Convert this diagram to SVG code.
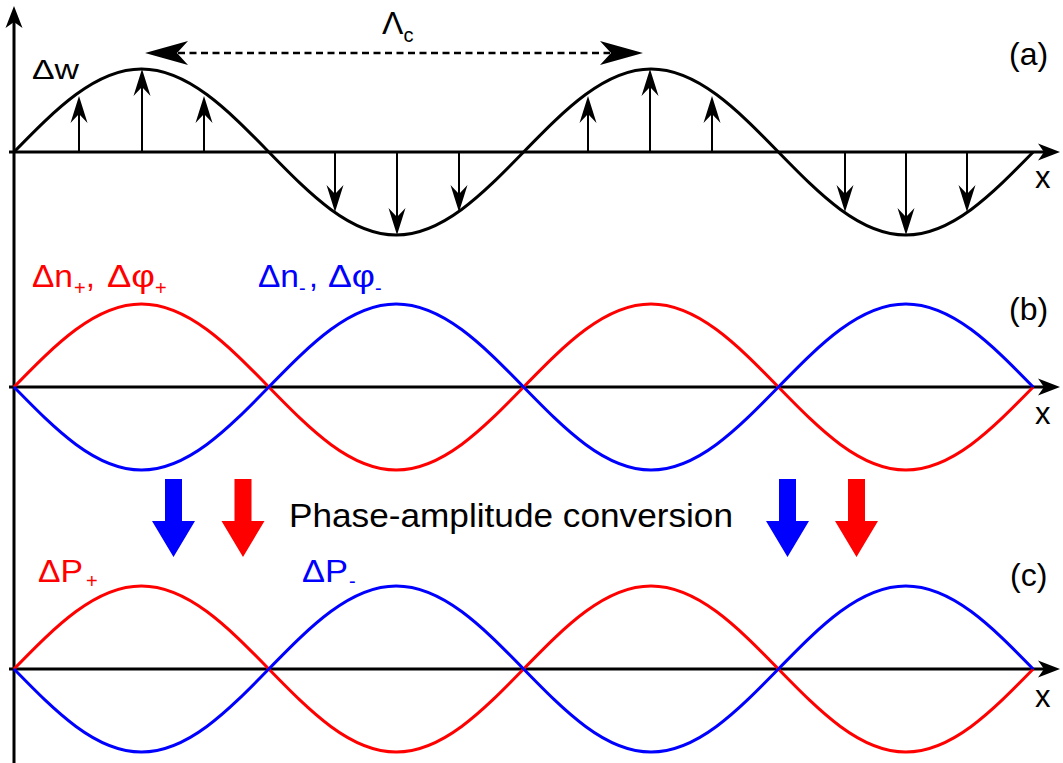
<svg xmlns="http://www.w3.org/2000/svg" width="1063" height="763" viewBox="0 0 1063 763">
<style>
.ax{stroke:#000;stroke-width:3;fill:none}
.wave{fill:none;stroke-width:3}
.bk{stroke:#000}
.rd{stroke:#ff0000}
.bl{stroke:#0000ff}
.sa{stroke:#000;stroke-width:2;fill:none}
.t{font-family:"Liberation Sans",Arial,sans-serif;fill:#000}
.red{fill:#ff0000}
.blue{fill:#0000ff}
</style>
<defs>
<path id="axh" d="M0,0 L-22,-8.5 L-16,0 L-22,8.5 Z" fill="#000"/>
<path id="sh" d="M0,0 L-8.5,27 L0,18 L8.5,27 Z" fill="#000"/>
<path id="dh" d="M0,0 L43,-12 L32,0 L43,12 Z" fill="#000"/>
<path id="blk" d="M-8.5,0 H8.5 V42 H21.5 L0,78 L-21.5,42 H-8.5 Z"/>
</defs>

<g id="axes">
<line class="ax" x1="14" y1="20" x2="14" y2="763"/>
<use href="#axh" transform="translate(14,6) rotate(-90)"/>
<line class="ax" x1="9" y1="152" x2="1046" y2="152"/>
<use href="#axh" transform="translate(1060,152)"/>
<line class="ax" x1="9" y1="387" x2="1046" y2="387"/>
<use href="#axh" transform="translate(1060,387)"/>
<line class="ax" x1="9" y1="669" x2="1046" y2="669"/>
<use href="#axh" transform="translate(1060,669)"/>
</g>

<g id="panel-a">
<path class="wave bk" d="M14,152 c41.5,-42.5 81.3,-83 127.4,-83 c46.1,0 85.9,40.5 127.4,83 c41.5,42.5 81.3,83 127.4,83 c46.1,0 85.9,-40.5 127.4,-83 c41.5,-42.5 81.3,-83 127.4,-83 c46.1,0 85.9,40.5 127.4,83 c41.5,42.5 81.3,83 127.4,83 c46.1,0 85.9,-40.5 127.4,-83"/>
<g id="small-arrows">
<line class="sa" x1="79" y1="152" x2="79" y2="110"/><use href="#sh" transform="translate(79,96)"/>
<line class="sa" x1="142" y1="152" x2="142" y2="85"/><use href="#sh" transform="translate(142,69)"/>
<line class="sa" x1="204" y1="152" x2="204" y2="110"/><use href="#sh" transform="translate(204,96)"/>
<line class="sa" x1="335" y1="152" x2="335" y2="198"/><use href="#sh" transform="translate(335,212) rotate(180)"/>
<line class="sa" x1="397" y1="152" x2="397" y2="220"/><use href="#sh" transform="translate(397,235) rotate(180)"/>
<line class="sa" x1="459" y1="152" x2="459" y2="198"/><use href="#sh" transform="translate(459,212) rotate(180)"/>
<line class="sa" x1="588" y1="152" x2="588" y2="110"/><use href="#sh" transform="translate(588,96)"/>
<line class="sa" x1="650" y1="152" x2="650" y2="85"/><use href="#sh" transform="translate(650,69)"/>
<line class="sa" x1="712" y1="152" x2="712" y2="110"/><use href="#sh" transform="translate(712,96)"/>
<line class="sa" x1="845" y1="152" x2="845" y2="198"/><use href="#sh" transform="translate(845,212) rotate(180)"/>
<line class="sa" x1="906" y1="152" x2="906" y2="220"/><use href="#sh" transform="translate(906,235) rotate(180)"/>
<line class="sa" x1="967" y1="152" x2="967" y2="198"/><use href="#sh" transform="translate(967,212) rotate(180)"/>
</g>
<g id="lambda-arrow">
<line x1="178" y1="53" x2="610" y2="53" stroke="#000" stroke-width="2.5" stroke-dasharray="7,4.5"/>
<use href="#dh" transform="translate(145,53)"/>
<use href="#dh" transform="translate(643,53) rotate(180)"/>
</g>
<text class="t" x="382" y="34" font-size="32">Λ<tspan font-size="20" dy="8">c</tspan></text>
<text class="t" x="32" y="79" font-size="28" textLength="47" lengthAdjust="spacingAndGlyphs">Δw</text>
<text class="t" x="1009" y="65" font-size="32">(a)</text>
<text class="t" x="1035" y="188" font-size="31">x</text>
</g>

<g id="panel-b">
<path class="wave rd" d="M14,387 c41.5,-42.5 81.3,-83 127.4,-83 c46.1,0 85.9,40.5 127.4,83 c41.5,42.5 81.3,83 127.4,83 c46.1,0 85.9,-40.5 127.4,-83 c41.5,-42.5 81.3,-83 127.4,-83 c46.1,0 85.9,40.5 127.4,83 c41.5,42.5 81.3,83 127.4,83 c46.1,0 85.9,-40.5 127.4,-83" stroke-width="2.5"/>
<path class="wave bl" d="M14,387 c41.5,42.5 81.3,83 127.4,83 c46.1,0 85.9,-40.5 127.4,-83 c41.5,-42.5 81.3,-83 127.4,-83 c46.1,0 85.9,40.5 127.4,83 c41.5,42.5 81.3,83 127.4,83 c46.1,0 85.9,-40.5 127.4,-83 c41.5,-42.5 81.3,-83 127.4,-83 c46.1,0 85.9,40.5 127.4,83" stroke-width="2.5"/>
<text class="t red" y="287" font-size="32"><tspan x="32" textLength="41" lengthAdjust="spacingAndGlyphs">Δn</tspan><tspan x="74" dy="8" font-size="20">+</tspan><tspan x="86" dy="-8">,</tspan><tspan x="107" textLength="48" lengthAdjust="spacingAndGlyphs">Δφ</tspan><tspan x="155" dy="8" font-size="20">+</tspan></text>
<text class="t blue" y="287" font-size="32"><tspan x="258" textLength="41" lengthAdjust="spacingAndGlyphs">Δn</tspan><tspan x="299" dy="8" font-size="20">-</tspan><tspan x="309" dy="-8">,</tspan><tspan x="328" textLength="47" lengthAdjust="spacingAndGlyphs">Δφ</tspan><tspan x="375" dy="8" font-size="20">-</tspan></text>
<text class="t" x="1009" y="320" font-size="32">(b)</text>
<text class="t" x="1035" y="424" font-size="31">x</text>
</g>

<g id="conversion">
<use href="#blk" fill="#0000ff" transform="translate(173.5,479)"/>
<use href="#blk" fill="#ff0000" transform="translate(243,479)"/>
<use href="#blk" fill="#0000ff" transform="translate(787.5,479)"/>
<use href="#blk" fill="#ff0000" transform="translate(856.5,479)"/>
<text class="t" x="289" y="527" font-size="33" textLength="444" lengthAdjust="spacingAndGlyphs">Phase-amplitude conversion</text>
</g>

<g id="panel-c">
<path class="wave rd" d="M14,669 c41.5,-42.5 81.3,-83 127.4,-83 c46.1,0 85.9,40.5 127.4,83 c41.5,42.5 81.3,83 127.4,83 c46.1,0 85.9,-40.5 127.4,-83 c41.5,-42.5 81.3,-83 127.4,-83 c46.1,0 85.9,40.5 127.4,83 c41.5,42.5 81.3,83 127.4,83 c46.1,0 85.9,-40.5 127.4,-83" stroke-width="2.5"/>
<path class="wave bl" d="M14,669 c41.5,42.5 81.3,83 127.4,83 c46.1,0 85.9,-40.5 127.4,-83 c41.5,-42.5 81.3,-83 127.4,-83 c46.1,0 85.9,40.5 127.4,83 c41.5,42.5 81.3,83 127.4,83 c46.1,0 85.9,-40.5 127.4,-83 c41.5,-42.5 81.3,-83 127.4,-83 c46.1,0 85.9,40.5 127.4,83" stroke-width="2.5"/>
<text class="t red" y="582" font-size="31"><tspan x="38" textLength="45" lengthAdjust="spacingAndGlyphs">ΔP</tspan><tspan x="86" dy="6" font-size="20">+</tspan></text>
<text class="t blue" y="582" font-size="31"><tspan x="302" textLength="46" lengthAdjust="spacingAndGlyphs">ΔP</tspan><tspan x="349" dy="6" font-size="20">-</tspan></text>
<text class="t" x="1010" y="586" font-size="32">(c)</text>
<text class="t" x="1035" y="707" font-size="31">x</text>
</g>
</svg>
